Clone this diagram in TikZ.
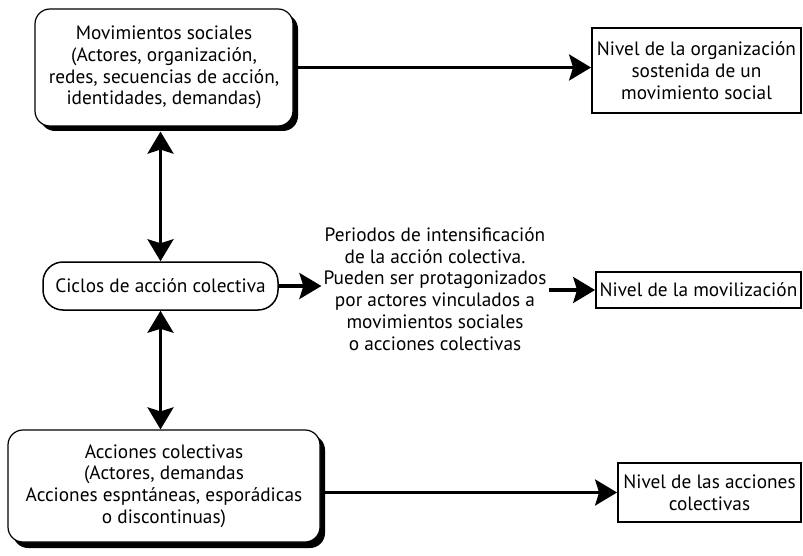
\documentclass[tikz,border=0pt]{standalone}
\usepackage{fontspec}
\setmainfont{PT Sans}
\usetikzlibrary{arrows.meta}
\begin{document}
\begin{tikzpicture}[x=1pt,y=-1pt,
  every node/.style={font=\fontsize{19.3}{21.8}\selectfont, align=center},
  bigbox/.style={draw, line width=1.2pt, rounded corners=15pt, fill=white, inner sep=0pt},
  shadowbox/.style={fill=black, rounded corners=15pt},
  cyclebox/.style={draw, line width=1.5pt, rounded corners=20pt, inner sep=0pt},
  levelbox/.style={draw, line width=1.8pt, inner sep=0pt},
  conn/.style={line width=3.2pt, -{Stealth[length=22pt, width=26pt, inset=4pt]}},
  dconn/.style={line width=3.2pt, {Stealth[length=22pt, width=26pt, inset=4pt]}-{Stealth[length=22pt, width=26pt, inset=4pt]}},
]
\useasboundingbox (0,0) rectangle (803,556);
% shadows
\fill[shadowbox] (40,14) rectangle (298,131);
\fill[shadowbox] (13,435) rectangle (325,548);
\node[bigbox, minimum width=258pt, minimum height=117pt] (mov) at (164,67.5)
  {Movimientos sociales\\(Actores, organización,\\redes, secuencias de acción,\\identidades, demandas)};
\node[bigbox, minimum width=312pt, minimum height=112pt] (acc) at (164,486)
  {Acciones colectivas\\(Actores, demandas\\Acciones espntáneas, esporádicas\\o discontinuas)};
\node[cyclebox, minimum width=235pt, minimum height=48pt] (cic) at (160.5,286)
  {Ciclos de acción colectiva};
\node[inner sep=2pt] (mid) at (435,289)
  {Periodos de intensificación\\de la acción colectiva.\\Pueden ser protagonizados\\por actores vinculados a\\movimientos sociales\\o acciones colectivas};
\node[levelbox, minimum width=209pt, minimum height=85pt] (r1) at (696.5,70.5)
  {Nivel de la organización\\sostenida de un\\movimiento social};
\node[levelbox, minimum width=205pt, minimum height=36pt] (r2) at (698.5,290)
  {Nivel de la movilización};
\node[levelbox, minimum width=183pt, minimum height=59pt] (r3) at (709.5,492.5)
  {Nivel de las acciones\\colectivas};
% connectors
\draw[conn] (mov.east) -- (mov.east -| r1.west);
\draw[conn] (cic.east) -- (cic.east -| mid.west);
\draw[conn] (mid.east |- r2.west) -- (r2.west);
\draw[conn] (acc.east |- r3.west) -- (r3.west);
\draw[dconn, shorten <=5pt] (cic.north |- mov.south) -- (cic.north);
\draw[dconn] (cic.south) -- (cic.south |- acc.north);
\end{tikzpicture}
\end{document}
